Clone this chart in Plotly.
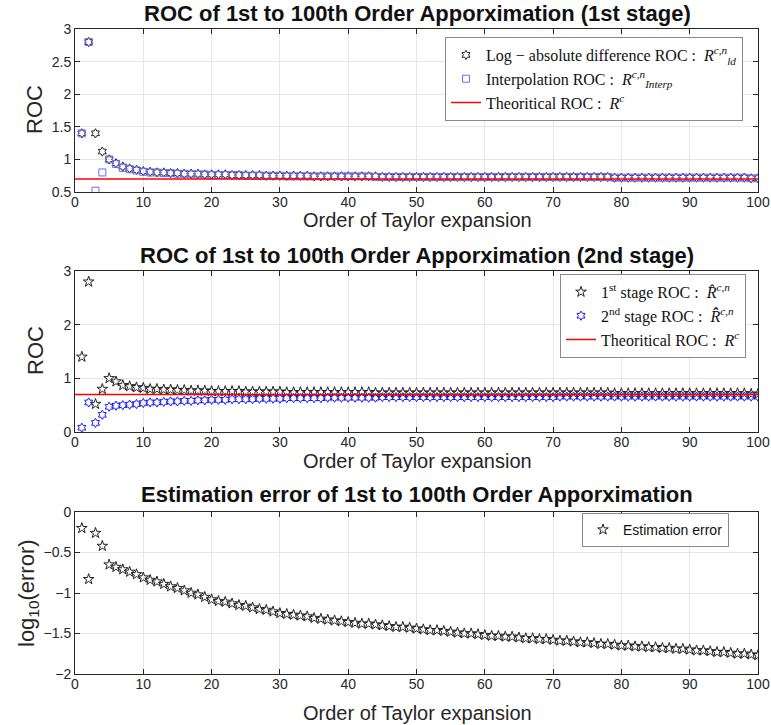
import plotly.graph_objects as go

order = list(range(1, 101))

ld_roc = [1.40, 2.80, 1.40, 1.12, 1.00, 0.94, 0.89, 0.86, 0.84, 0.82,
          0.81, 0.80, 0.80, 0.79, 0.79, 0.78, 0.78, 0.78, 0.77, 0.77,
          0.77, 0.77, 0.76, 0.76, 0.76, 0.76, 0.76, 0.75, 0.75, 0.75,
          0.75, 0.75, 0.75, 0.75, 0.74, 0.74, 0.74, 0.74, 0.74, 0.74,
          0.74, 0.74, 0.74, 0.74, 0.73, 0.73, 0.73, 0.73, 0.73, 0.73,
          0.73, 0.73, 0.73, 0.73, 0.73, 0.73, 0.73, 0.73, 0.73, 0.73,
          0.73, 0.73, 0.73, 0.73, 0.73, 0.73, 0.73, 0.73, 0.73, 0.73,
          0.73, 0.73, 0.73, 0.73, 0.73, 0.73, 0.73, 0.73, 0.72, 0.72,
          0.72, 0.72, 0.72, 0.72, 0.72, 0.72, 0.72, 0.72, 0.72, 0.72,
          0.72, 0.72, 0.72, 0.72, 0.72, 0.72, 0.72, 0.72, 0.71, 0.71]

interp_roc = [1.40, 2.80, 0.52, 0.80, 1.00, 0.93, 0.87, 0.85, 0.83, 0.81,
              0.80, 0.80, 0.79, 0.79, 0.78, 0.78, 0.77, 0.77, 0.77, 0.76,
              0.76, 0.76, 0.76, 0.76, 0.75, 0.75, 0.75, 0.75, 0.75, 0.75,
              0.74, 0.74, 0.74, 0.74, 0.74, 0.74, 0.74, 0.74, 0.74, 0.74,
              0.74, 0.74, 0.74, 0.73, 0.73, 0.73, 0.73, 0.73, 0.73, 0.73,
              0.73, 0.73, 0.73, 0.73, 0.73, 0.73, 0.73, 0.73, 0.73, 0.73,
              0.73, 0.73, 0.73, 0.73, 0.73, 0.73, 0.73, 0.73, 0.73, 0.73,
              0.73, 0.73, 0.73, 0.73, 0.73, 0.73, 0.73, 0.73, 0.72, 0.72,
              0.72, 0.72, 0.72, 0.72, 0.72, 0.72, 0.72, 0.72, 0.72, 0.72,
              0.72, 0.72, 0.72, 0.72, 0.72, 0.72, 0.72, 0.72, 0.71, 0.71]

stage1_roc = [1.40, 2.80, 0.52, 0.80, 1.00, 0.94, 0.87, 0.85, 0.83, 0.82,
              0.80, 0.80, 0.79, 0.79, 0.78, 0.78, 0.77, 0.77, 0.77, 0.76,
              0.76, 0.76, 0.76, 0.76, 0.75, 0.75, 0.75, 0.75, 0.75, 0.75,
              0.74, 0.74, 0.74, 0.74, 0.74, 0.74, 0.74, 0.74, 0.74, 0.74,
              0.74, 0.74, 0.74, 0.73, 0.73, 0.73, 0.73, 0.73, 0.73, 0.73,
              0.73, 0.73, 0.73, 0.73, 0.73, 0.73, 0.73, 0.73, 0.73, 0.73,
              0.73, 0.73, 0.73, 0.73, 0.73, 0.73, 0.73, 0.73, 0.73, 0.73,
              0.73, 0.73, 0.73, 0.73, 0.73, 0.73, 0.73, 0.73, 0.72, 0.72,
              0.72, 0.72, 0.72, 0.72, 0.72, 0.72, 0.72, 0.72, 0.72, 0.72,
              0.72, 0.72, 0.72, 0.72, 0.72, 0.72, 0.72, 0.72, 0.71, 0.71]

stage2_roc = [0.08, 0.55, 0.17, 0.32, 0.47, 0.49, 0.50, 0.51, 0.52, 0.54,
              0.55, 0.55, 0.56, 0.57, 0.57, 0.58, 0.58, 0.59, 0.59, 0.60,
              0.60, 0.60, 0.61, 0.61, 0.61, 0.61, 0.62, 0.62, 0.62, 0.62,
              0.63, 0.63, 0.63, 0.63, 0.63, 0.63, 0.64, 0.64, 0.64, 0.64,
              0.64, 0.64, 0.64, 0.64, 0.65, 0.65, 0.65, 0.65, 0.65, 0.65,
              0.65, 0.65, 0.65, 0.65, 0.65, 0.65, 0.65, 0.65, 0.65, 0.65,
              0.65, 0.65, 0.65, 0.65, 0.65, 0.65, 0.65, 0.65, 0.65, 0.65,
              0.66, 0.66, 0.66, 0.66, 0.66, 0.66, 0.66, 0.66, 0.66, 0.66,
              0.66, 0.66, 0.66, 0.66, 0.66, 0.66, 0.66, 0.66, 0.66, 0.66,
              0.66, 0.66, 0.66, 0.66, 0.66, 0.66, 0.66, 0.66, 0.66, 0.66]

log_error = [-0.20, -0.83, -0.26, -0.42, -0.65, -0.68, -0.71, -0.74, -0.77, -0.81,
             -0.84, -0.86, -0.89, -0.92, -0.94, -0.97, -1.00, -1.02, -1.05, -1.08,
             -1.10, -1.11, -1.13, -1.15, -1.16, -1.18, -1.20, -1.21, -1.23, -1.25,
             -1.26, -1.27, -1.28, -1.29, -1.31, -1.32, -1.33, -1.34, -1.35, -1.36,
             -1.37, -1.38, -1.38, -1.39, -1.40, -1.41, -1.42, -1.42, -1.43, -1.44,
             -1.45, -1.46, -1.46, -1.47, -1.48, -1.49, -1.50, -1.50, -1.51, -1.52,
             -1.53, -1.53, -1.54, -1.54, -1.55, -1.56, -1.56, -1.57, -1.57, -1.58,
             -1.59, -1.59, -1.60, -1.61, -1.61, -1.62, -1.63, -1.63, -1.64, -1.65,
             -1.65, -1.66, -1.66, -1.67, -1.67, -1.68, -1.68, -1.69, -1.69, -1.70,
             -1.71, -1.71, -1.72, -1.73, -1.73, -1.74, -1.75, -1.75, -1.76, -1.77]

theory_x = [0, 100]
theory_roc = [0.7, 0.7]

x_ticks = list(range(0, 101, 10))
y1_ticks = [0.5, 1, 1.5, 2, 2.5, 3]
y2_ticks = [0, 1, 2, 3]
y3_ticks = [-2, -1.5, -1, -0.5, 0]

W, H = 771, 725
SANS = "Liberation Sans, Arial, Helvetica, sans-serif"
SERIF = "Liberation Serif, DejaVu Serif, serif"
AX = "#262626"
GRID = "#e6e6e6"

def ydom(top_px, bot_px):
    return [1 - bot_px / H, 1 - top_px / H]

xdom = [75 / W, 758 / W]
panels = [(29, 192), (271, 432), (512, 674)]

fig = go.Figure()

# Panel 1
fig.add_trace(go.Scatter(x=order, y=ld_roc, mode="markers", xaxis="x", yaxis="y",
                         name="Log − absolute difference ROC :  <i>R</i><sup><i>c,n</i></sup><sub><i>ld</i></sub>",
                         marker=dict(symbol="hexagram-open", size=7, color="#222222", line=dict(width=1)),
                         legend="legend"))
fig.add_trace(go.Scatter(x=order, y=interp_roc, mode="markers", xaxis="x", yaxis="y",
                         name="Interpolation ROC :  <i>R</i><sup><i>c,n</i></sup><sub><i>Interp</i></sub>",
                         marker=dict(symbol="square-open", size=7, color="#6b6bff", line=dict(width=1)),
                         legend="legend"))
fig.add_trace(go.Scatter(x=theory_x, y=theory_roc, mode="lines", xaxis="x", yaxis="y",
                         name="Theoritical ROC :  <i>R</i><sup><i>c</i></sup>",
                         line=dict(color="#ff0000", width=1.5), legend="legend"))

# Panel 2
fig.add_trace(go.Scatter(x=order, y=stage1_roc, mode="markers", xaxis="x2", yaxis="y2",
                         name="1<sup>st</sup> stage ROC :  <i>R̂</i><sup><i>c,n</i></sup>",
                         marker=dict(symbol="star-open", size=8, color="#222222", line=dict(width=1)),
                         legend="legend2"))
fig.add_trace(go.Scatter(x=order, y=stage2_roc, mode="markers", xaxis="x2", yaxis="y2",
                         name="2<sup>nd</sup> stage ROC :  <i>R̂̂</i><sup><i>c,n</i></sup>",
                         marker=dict(symbol="hexagram-open", size=7, color="#1a1aff", line=dict(width=1)),
                         legend="legend2"))
fig.add_trace(go.Scatter(x=theory_x, y=theory_roc, mode="lines", xaxis="x2", yaxis="y2",
                         name="Theoritical ROC :  <i>R</i><sup><i>c</i></sup>",
                         line=dict(color="#ff0000", width=1.5), legend="legend2"))

# Panel 3
fig.add_trace(go.Scatter(x=order, y=log_error, mode="markers", xaxis="x3", yaxis="y3",
                         name="Estimation error",
                         marker=dict(symbol="star-open", size=8, color="#222222", line=dict(width=1)),
                         legend="legend3"))

def xaxis_cfg(anchor):
    return dict(domain=xdom, anchor=anchor, range=[0, 100], tickvals=x_ticks,
                showline=True, linecolor=AX, linewidth=1, mirror="ticks",
                ticks="inside", ticklen=5, tickcolor=AX, automargin=False,
                showgrid=True, gridcolor=GRID, zeroline=False,
                ticklabeloverflow="allow", ticklabelstandoff=-3,
                tickfont=dict(family=SANS, size=14, color=AX))

def yaxis_cfg(anchor, dom, rng, tv):
    return dict(domain=dom, anchor=anchor, range=rng, tickvals=tv,
                showline=True, linecolor=AX, linewidth=1, mirror="ticks",
                ticks="inside", ticklen=5, tickcolor=AX, automargin=False,
                showgrid=True, gridcolor=GRID, zeroline=False,
                ticklabeloverflow="allow",
                tickfont=dict(family=SANS, size=14, color=AX))

legend_common = dict(bgcolor="white", bordercolor="#8a8a8a", borderwidth=1,
                     xanchor="right", yanchor="top", tracegroupgap=0)

fig.update_layout(
    width=W, height=H, margin=dict(l=0, r=0, t=0, b=0, autoexpand=False),
    paper_bgcolor="white", plot_bgcolor="white",
    xaxis=xaxis_cfg("y"), yaxis=yaxis_cfg("x", ydom(*panels[0]), [0.5, 3], y1_ticks),
    xaxis2=xaxis_cfg("y2"), yaxis2=yaxis_cfg("x2", ydom(*panels[1]), [0, 3], y2_ticks),
    xaxis3=xaxis_cfg("y3"), yaxis3=yaxis_cfg("x3", ydom(*panels[2]), [-2, 0], y3_ticks),
    legend=dict(x=743 / W, y=1 - 37 / H, font=dict(family=SERIF, size=16, color="#111"),
                **legend_common),
    legend2=dict(x=746 / W, y=1 - 274 / H, font=dict(family=SERIF, size=16, color="#111"),
                 **legend_common),
    legend3=dict(x=729 / W, y=1 - 513 / H, font=dict(family=SANS, size=14, color="#111"),
                 **legend_common),
    showlegend=True,
)

annots = [
    ("ROC of 1st to 100th Order Apporximation (1st stage)", 417, 14, 22, True, 0),
    ("ROC of 1st to 100th Order Apporximation (2nd stage)", 417, 256, 22, True, 0),
    ("Estimation error of 1st to 100th Order Apporximation", 417, 494, 22, True, 0),
    ("Order of Taylor expansion", 417, 220, 20, False, 0),
    ("Order of Taylor expansion", 417, 461, 20, False, 0),
    ("Order of Taylor expansion", 417, 713, 20, False, 0),
    ("ROC", 35, 110, 22, False, -90),
    ("ROC", 35, 351, 22, False, -90),
    ("log<sub>10</sub>(error)", 28, 593, 22, False, -90),
]
for text, px, py, size, bold, ang in annots:
    fig.add_annotation(text=f"<b>{text}</b>" if bold else text,
                       x=px / W, y=1 - py / H, xref="paper", yref="paper",
                       xanchor="center", yanchor="middle", showarrow=False,
                       textangle=ang,
                       font=dict(family=SANS, size=size, color="#111" if bold else AX))

fig.write_html("out.html")
